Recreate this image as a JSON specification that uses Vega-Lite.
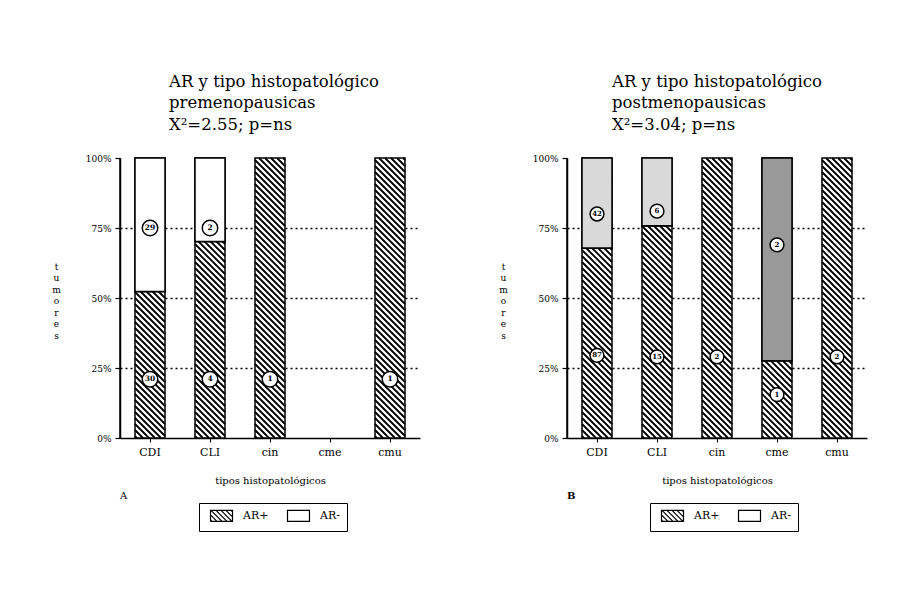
{
  "$schema": "https://vega.github.io/schema/vega-lite/v6.json",
  "background": "white",
  "padding": {"left": 50, "top": 72, "right": 5, "bottom": 5},
  "config": {
    "view": {"stroke": "black", "strokeWidth": 1.5, "strokeDash": [0, 880, 281, 100]},
    "font": "DejaVu Serif",
    "axis": {"domain": true, "domainColor": "black", "domainWidth": 1.5, "domainOpacity": 1, "ticks": true, "tickColor": "black", "tickOpacity": 1, "labelColor": "black", "titleColor": "black", "labelFont": "DejaVu Serif", "titleFont": "DejaVu Serif", "titleFontWeight": "normal"},
    "axisY": {"tickSize": 5, "tickWidth": 1.2, "labelFontSize": 9, "labelPadding": 4},
    "axisX": {"tickSize": 4, "tickWidth": 1, "labelFontSize": 11, "labelPadding": 4, "labelAngle": 0, "titleFontSize": 10, "titlePadding": 18, "grid": false}
  },
  "datasets": {
    "barsA": [
      {"tipo": "CDI", "AR": "AR+", "pct": 52.3},
      {"tipo": "CDI", "AR": "AR-", "pct": 47.7},
      {"tipo": "CLI", "AR": "AR+", "pct": 70.2},
      {"tipo": "CLI", "AR": "AR-", "pct": 29.8},
      {"tipo": "cin", "AR": "AR+", "pct": 100},
      {"tipo": "cmu", "AR": "AR+", "pct": 100}
    ],
    "barsB": [
      {"tipo": "CDI", "AR": "AR+", "pct": 67.9},
      {"tipo": "CDI", "AR": "AR-", "pct": 32.1},
      {"tipo": "CLI", "AR": "AR+", "pct": 75.8},
      {"tipo": "CLI", "AR": "AR-", "pct": 24.2},
      {"tipo": "cin", "AR": "AR+", "pct": 100},
      {"tipo": "cme", "AR": "AR+", "pct": 27.6},
      {"tipo": "cme", "AR": "AR-", "pct": 72.4},
      {"tipo": "cmu", "AR": "AR+", "pct": 100}
    ],
    "labA": [
      {"tipo": "CDI", "n": "29", "pos": 75},
      {"tipo": "CDI", "n": "30", "pos": 21},
      {"tipo": "CLI", "n": "2", "pos": 75},
      {"tipo": "CLI", "n": "4", "pos": 21},
      {"tipo": "cin", "n": "1", "pos": 21},
      {"tipo": "cmu", "n": "1", "pos": 21}
    ],
    "labB": [
      {"tipo": "CDI", "n": "42", "pos": 80},
      {"tipo": "CDI", "n": "87", "pos": 29.5},
      {"tipo": "CLI", "n": "6", "pos": 81},
      {"tipo": "CLI", "n": "15", "pos": 29},
      {"tipo": "cin", "n": "2", "pos": 29},
      {"tipo": "cme", "n": "2", "pos": 69},
      {"tipo": "cme", "n": "1", "pos": 15.5},
      {"tipo": "cmu", "n": "2", "pos": 29}
    ],
    "panA": [{"p": "A"}],
    "panB": [{"p": "B"}]
  },
  "spacing": 76,
  "resolve": {"scale": {"x": "independent", "y": "independent", "fill": "independent"}, "legend": {"fill": "independent"}},
  "hconcat": [
    {
      "width": 300,
      "height": 280,
      "title": {"text": ["AR y tipo histopatológico", "premenopausicas", "X²=2.55; p=ns"], "anchor": "start", "frame": "group", "dx": 49, "font": "DejaVu Serif", "fontSize": 16.5, "fontWeight": "normal", "lineHeight": 21.5, "offset": 21, "color": "black"},
      "data": {"name": "barsA"},
      "encoding": {
        "x": {"field": "tipo", "type": "nominal", "sort": null,
          "scale": {"domain": ["CDI", "CLI", "cin", "cme", "cmu"], "paddingInner": 0.5, "paddingOuter": 0.25},
          "axis": {"title": "tipos histopatológicos"}}
      },
      "layer": [
        {
          "transform": [{"stack": "pct", "groupby": ["tipo"], "sort": [{"field": "AR", "order": "ascending"}], "as": ["y0", "y1"]}],
          "mark": {"type": "bar", "stroke": "black", "strokeWidth": 1.5},
          "encoding": {
            "y": {"field": "y0", "type": "quantitative", "scale": {"domain": [0, 100], "nice": false},
              "axis": {"values": [0, 25, 50, 75, 100], "labelExpr": "datum.value + '%'", "title": ["t", "u", "m", "o", "r", "e", "s"], "titleAngle": 0, "titleX": -64, "titleY": 111, "titleAlign": "center", "titleBaseline": "alphabetic", "titleLineHeight": 11.5, "titleFontSize": 9, "grid": true, "gridColor": "black", "gridDash": [2, 3], "gridWidth": 1.5, "gridOpacity": {"condition": {"test": "datum.value == 25 || datum.value == 50 || datum.value == 75", "value": 1}, "value": 0}}},
            "y2": {"field": "y1"},
            "fill": {"field": "AR", "type": "nominal",
              "scale": {"domain": ["AR+", "AR-"], "range": ["white", "white"]},
              "legend": {"orient": "none", "legendX": 79, "legendY": 345, "direction": "horizontal", "title": null, "symbolType": "M-11 -5.5H11V5.5H-11Z", "symbolSize": 4, "symbolOffset": 10, "symbolStrokeColor": "black", "symbolStrokeWidth": 1, "labelFont": "DejaVu Serif", "labelFontSize": 11, "labelColor": "black", "labelOffset": 16, "strokeColor": "black", "fillColor": "white", "padding": 7, "columnPadding": 14,
                "encode": {"symbols": {"update": {"shape": [{"test": "datum.value === 'AR+'", "value": "M-11 -5.5H11V5.5H-11ZM9.5 -5.5L11 -4M4.5 -5.5L11 1M-0.5 -5.5L10.5 5.5M-5.5 -5.5L5.5 5.5M-10.5 -5.5L0.5 5.5M-11 -1L-4.5 5.5M-11 4L-9.5 5.5"}, {"value": "M-11 -5.5H11V5.5H-11Z"}], "fill": {"value": "white"}, "stroke": {"value": "black"}, "strokeWidth": {"value": 1.2}}}}}}
          }
        },
        {
          "transform": [{"filter": "datum.AR === 'AR+'"}],
          "mark": {"type": "point", "shape": "M13 -140L15 -138M7 -140L15 -132M1 -140L15 -126M-5 -140L15 -120M-11 -140L15 -114M-15 -138l30 30M-15 -132l30 30M-15 -126l30 30M-15 -120l30 30M-15 -114l30 30M-15 -108l30 30M-15 -102l30 30M-15 -96l30 30M-15 -90l30 30M-15 -84l30 30M-15 -78l30 30M-15 -72l30 30M-15 -66l30 30M-15 -60l30 30M-15 -54l30 30M-15 -48l30 30M-15 -42l30 30M-15 -36l30 30M-15 -30l30 30M-15 -24l30 30M-15 -18l30 30M-15 -12l30 30M-15 -6l30 30M-15 0l30 30M-15 6l30 30M-15 12l30 30M-15 18l30 30M-15 24l30 30M-15 30l30 30M-15 36l30 30M-15 42l30 30M-15 48l30 30M-15 54l30 30M-15 60l30 30M-15 66l30 30M-15 72l30 30M-15 78l30 30M-15 84l30 30M-15 90l30 30M-15 96l30 30M-15 102l30 30M-15 108l30 30M-15 114L11 140M-15 120L5 140M-15 126L-1 140M-15 132L-7 140M-15 138L-13 140", "size": 4, "filled": false, "color": "black", "strokeWidth": 1.8, "opacity": 1},
          "encoding": {"y": {"datum": 50, "type": "quantitative"}}
        },
        {
          "transform": [{"stack": "pct", "groupby": ["tipo"], "sort": [{"field": "AR", "order": "ascending"}], "as": ["y0", "y1"]}, {"filter": "datum.AR === 'AR-'"}],
          "mark": {"type": "bar", "fill": "white", "stroke": "black", "strokeWidth": 1.5},
          "encoding": {"y": {"field": "y0", "type": "quantitative"}, "y2": {"field": "y1"}}
        },
        {
          "data": {"name": "labA"},
          "mark": {"type": "point", "shape": "circle", "filled": true, "fill": "white", "stroke": "black", "strokeWidth": 1.5, "size": 240, "opacity": 1},
          "encoding": {"y": {"field": "pos", "type": "quantitative"}}
        },
        {
          "data": {"name": "labA"},
          "mark": {"type": "text", "font": "DejaVu Serif", "fontSize": 7.5, "fontWeight": "bold", "color": "black"},
          "encoding": {"y": {"field": "pos", "type": "quantitative"}, "text": {"field": "n"}}
        },
        {
          "data": {"name": "panA"},
          "mark": {"type": "text", "font": "DejaVu Serif", "fontSize": 10, "color": "black", "align": "left", "baseline": "alphabetic", "dx": -15, "dy": 61},
          "encoding": {"x": {"datum": "CDI", "bandPosition": 0}, "y": {"datum": 0, "type": "quantitative"}, "text": {"field": "p"}}
        }
      ]
    },
    {
      "width": 300,
      "height": 280,
      "title": {"text": ["AR y tipo histopatológico", "postmenopausicas", "X²=3.04; p=ns"], "anchor": "start", "frame": "group", "dx": 45, "font": "DejaVu Serif", "fontSize": 16.5, "fontWeight": "normal", "lineHeight": 21.5, "offset": 21, "color": "black"},
      "data": {"name": "barsB"},
      "encoding": {
        "x": {"field": "tipo", "type": "nominal", "sort": null,
          "scale": {"domain": ["CDI", "CLI", "cin", "cme", "cmu"], "paddingInner": 0.5, "paddingOuter": 0.25},
          "axis": {"title": "tipos histopatológicos"}}
      },
      "layer": [
        {
          "transform": [{"stack": "pct", "groupby": ["tipo"], "sort": [{"field": "AR", "order": "ascending"}], "as": ["y0", "y1"]}],
          "mark": {"type": "bar", "stroke": "black", "strokeWidth": 1.5},
          "encoding": {
            "y": {"field": "y0", "type": "quantitative", "scale": {"domain": [0, 100], "nice": false},
              "axis": {"values": [0, 25, 50, 75, 100], "labelExpr": "datum.value + '%'", "title": ["t", "u", "m", "o", "r", "e", "s"], "titleAngle": 0, "titleX": -64, "titleY": 111, "titleAlign": "center", "titleBaseline": "alphabetic", "titleLineHeight": 11.5, "titleFontSize": 9, "grid": true, "gridColor": "black", "gridDash": [2, 3], "gridWidth": 1.5, "gridOpacity": {"condition": {"test": "datum.value == 25 || datum.value == 50 || datum.value == 75", "value": 1}, "value": 0}}},
            "y2": {"field": "y1"},
            "fill": {"field": "AR", "type": "nominal",
              "scale": {"domain": ["AR+", "AR-"], "range": ["white", "white"]},
              "legend": {"orient": "none", "legendX": 83, "legendY": 345, "direction": "horizontal", "title": null, "symbolType": "M-11 -5.5H11V5.5H-11Z", "symbolSize": 4, "symbolOffset": 10, "symbolStrokeColor": "black", "symbolStrokeWidth": 1, "labelFont": "DejaVu Serif", "labelFontSize": 11, "labelColor": "black", "labelOffset": 16, "strokeColor": "black", "fillColor": "white", "padding": 7, "columnPadding": 14,
                "encode": {"symbols": {"update": {"shape": [{"test": "datum.value === 'AR+'", "value": "M-11 -5.5H11V5.5H-11ZM9.5 -5.5L11 -4M4.5 -5.5L11 1M-0.5 -5.5L10.5 5.5M-5.5 -5.5L5.5 5.5M-10.5 -5.5L0.5 5.5M-11 -1L-4.5 5.5M-11 4L-9.5 5.5"}, {"value": "M-11 -5.5H11V5.5H-11Z"}], "fill": {"value": "white"}, "stroke": {"value": "black"}, "strokeWidth": {"value": 1.2}}}}}}
          }
        },
        {
          "transform": [{"filter": "datum.AR === 'AR+'"}],
          "mark": {"type": "point", "shape": "M13 -140L15 -138M7 -140L15 -132M1 -140L15 -126M-5 -140L15 -120M-11 -140L15 -114M-15 -138l30 30M-15 -132l30 30M-15 -126l30 30M-15 -120l30 30M-15 -114l30 30M-15 -108l30 30M-15 -102l30 30M-15 -96l30 30M-15 -90l30 30M-15 -84l30 30M-15 -78l30 30M-15 -72l30 30M-15 -66l30 30M-15 -60l30 30M-15 -54l30 30M-15 -48l30 30M-15 -42l30 30M-15 -36l30 30M-15 -30l30 30M-15 -24l30 30M-15 -18l30 30M-15 -12l30 30M-15 -6l30 30M-15 0l30 30M-15 6l30 30M-15 12l30 30M-15 18l30 30M-15 24l30 30M-15 30l30 30M-15 36l30 30M-15 42l30 30M-15 48l30 30M-15 54l30 30M-15 60l30 30M-15 66l30 30M-15 72l30 30M-15 78l30 30M-15 84l30 30M-15 90l30 30M-15 96l30 30M-15 102l30 30M-15 108l30 30M-15 114L11 140M-15 120L5 140M-15 126L-1 140M-15 132L-7 140M-15 138L-13 140", "size": 4, "filled": false, "color": "black", "strokeWidth": 1.8, "opacity": 1},
          "encoding": {"y": {"datum": 50, "type": "quantitative"}}
        },
        {
          "transform": [{"stack": "pct", "groupby": ["tipo"], "sort": [{"field": "AR", "order": "ascending"}], "as": ["y0", "y1"]}, {"filter": "datum.AR === 'AR-'"}],
          "mark": {"type": "bar", "stroke": "black", "strokeWidth": 1.5},
          "encoding": {"y": {"field": "y0", "type": "quantitative"}, "y2": {"field": "y1"},
            "fill": {"condition": {"test": "datum.tipo === 'cme'", "value": "#999999"}, "value": "#d9d9d9"}}
        },
        {
          "data": {"name": "labB"},
          "mark": {"type": "point", "shape": "circle", "filled": true, "fill": "white", "stroke": "black", "strokeWidth": 1.5, "size": 190, "opacity": 1},
          "encoding": {"y": {"field": "pos", "type": "quantitative"}}
        },
        {
          "data": {"name": "labB"},
          "mark": {"type": "text", "font": "DejaVu Serif", "fontSize": 7, "fontWeight": "bold", "color": "black"},
          "encoding": {"y": {"field": "pos", "type": "quantitative"}, "text": {"field": "n"}}
        },
        {
          "data": {"name": "panB"},
          "mark": {"type": "text", "font": "DejaVu Serif", "fontSize": 10, "fontWeight": "bold", "color": "black", "align": "left", "baseline": "alphabetic", "dx": -15, "dy": 61},
          "encoding": {"x": {"datum": "CDI", "bandPosition": 0}, "y": {"datum": 0, "type": "quantitative"}, "text": {"field": "p"}}
        }
      ]
    }
  ]
}
